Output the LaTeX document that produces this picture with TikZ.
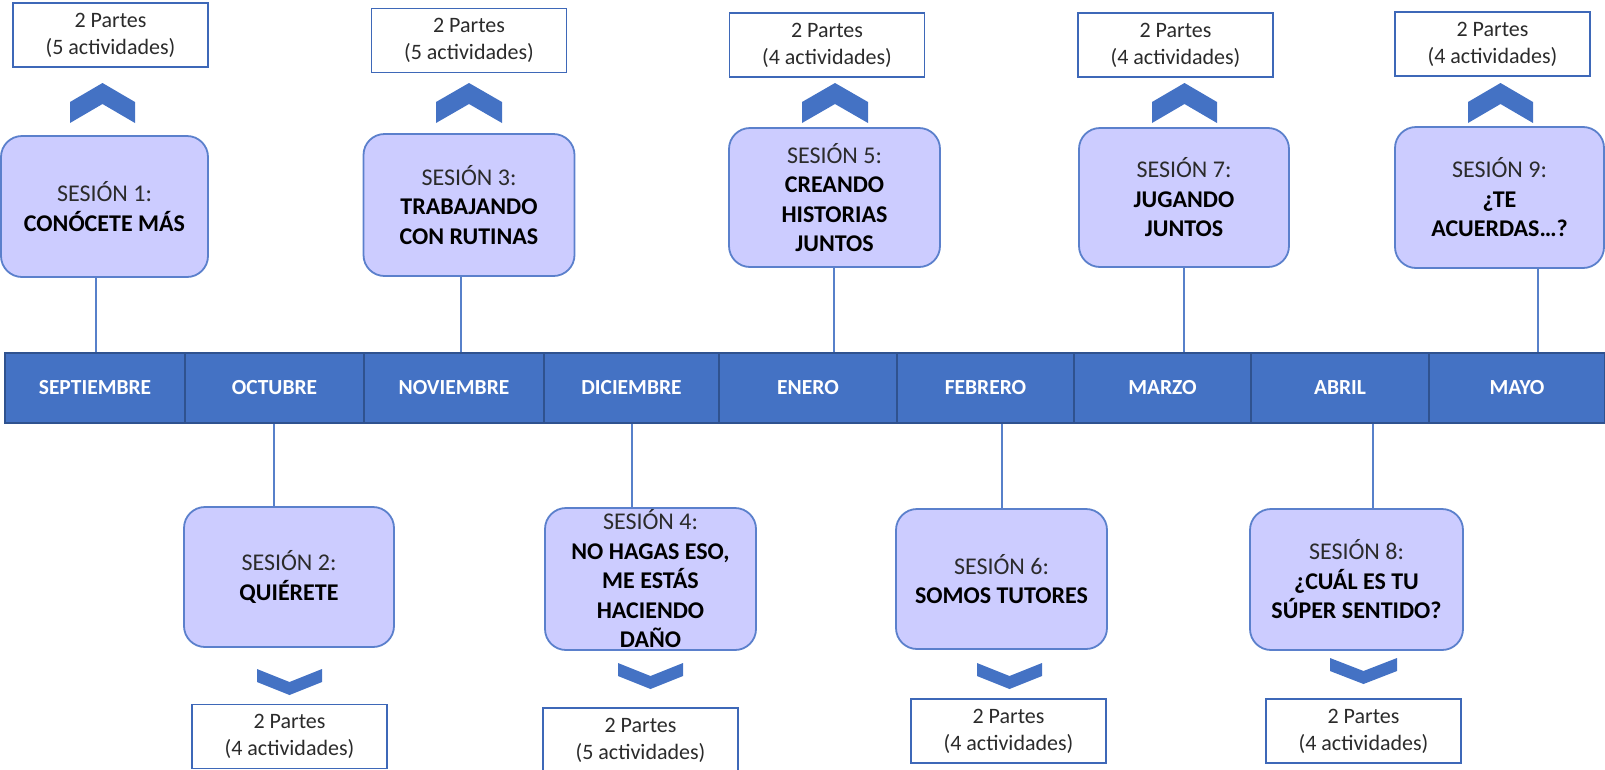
\documentclass[tikz,border=0pt]{standalone}
\usepackage{fontspec}
\setmainfont{Carlito}
\definecolor{barblue}{HTML}{4472C4}
\definecolor{bardark}{HTML}{2F528F}
\definecolor{sessfill}{HTML}{CCCCFF}
\definecolor{sessline}{HTML}{5B80CC}
\definecolor{infoline}{HTML}{3E68B8}
\definecolor{txtgray}{HTML}{2B2B2B}
\tikzset{
  sbox/.style={draw=sessline, fill=sessfill, line width=1.8pt, rounded corners=21pt, minimum width=210, minimum height=141, inner sep=0pt},
  stext/.style={align=center, inner sep=0pt, text=txtgray, font=\fontsize{24}{29.5}\selectfont},
  ibox/.style={draw=infoline, fill=white, line width=1.6pt, minimum width=195, minimum height=64, inner sep=0pt, align=center, text=txtgray, font=\fontsize{22}{27}\selectfont},
  month/.style={draw=bardark, fill=barblue, line width=1.8pt, minimum height=70, inner sep=0pt, text=white, font=\fontsize{21.5}{25}\selectfont\bfseries},
  conn/.style={draw=barblue!90!white, line width=1.6pt},
  chev/.style={fill=barblue}
}
\newcommand\mysess[6]{%
  \node[sbox, minimum width=#4, minimum height=#5] (#1) at (#2,#3) {};
  \node[stext] (#1t) at (#1.center) {#6};}
\newcommand\mychevup[3]{\fill[chev] (#1,#3+19) -- ({(#1+#2)/2},#3) -- (#2,#3+19) -- (#2,#3+40) -- ({(#1+#2)/2},#3+21) -- (#1,#3+40) -- cycle;}
\newcommand\mychevdown[3]{\fill[chev] (#1,#3) -- ({(#1+#2)/2},#3+13) -- (#2,#3) -- (#2,#3+13) -- ({(#1+#2)/2},#3+26) -- (#1,#3+13) -- cycle;}
\newcommand\mymonth[4]{\node[month, minimum width={#3-#2}] (#1) at ({(#2+#3)/2},388) {#4};}
\begin{document}
\begin{tikzpicture}[x=1pt, y=-1pt]
\useasboundingbox (0,0) rectangle (1605,769);
% month bar
\mymonth{m1}{5}{185}{SEPTIEMBRE}
\mymonth{m2}{185}{364}{OCTUBRE}
\mymonth{m3}{364}{544}{NOVIEMBRE}
\mymonth{m4}{544}{719}{DICIEMBRE}
\mymonth{m5}{719}{897}{ENERO}
\mymonth{m6}{897}{1074}{FEBRERO}
\mymonth{m7}{1074}{1251}{MARZO}
\mymonth{m8}{1251}{1429}{ABRIL}
\mymonth{m9}{1429}{1605}{MAYO}
% sessions
\mysess{s1}{104.5}{206.5}{207}{141}{SESIÓN 1:\\\textbf{\color{black}CONÓCETE MÁS}}
\mysess{s3}{469}{205}{211}{142}{SESIÓN 3:\\\textbf{\color{black}TRABAJANDO}\\\textbf{\color{black}CON RUTINAS}}
\mysess{s5}{834.5}{197.5}{211}{139}{SESIÓN 5:\\\textbf{\color{black}CREANDO}\\\textbf{\color{black}HISTORIAS}\\\textbf{\color{black}JUNTOS}}
\mysess{s7}{1184}{197.5}{210}{139}{SESIÓN 7:\\\textbf{\color{black}JUGANDO}\\\textbf{\color{black}JUNTOS}}
\mysess{s9}{1499.5}{197.5}{209}{141}{SESIÓN 9:\\\textbf{\color{black}¿TE}\\\textbf{\color{black}ACUERDAS…?}}
\mysess{s2}{289}{577}{210}{140}{SESIÓN 2:\\\textbf{\color{black}QUIÉRETE}}
\mysess{s4}{650.5}{579}{211}{142}{SESIÓN 4:\\\textbf{\color{black}NO HAGAS ESO,}\\\textbf{\color{black}ME ESTÁS}\\\textbf{\color{black}HACIENDO}\\\textbf{\color{black}DAÑO}}
\mysess{s6}{1001.5}{579}{211}{140}{SESIÓN 6:\\\textbf{\color{black}SOMOS TUTORES}}
\mysess{s8}{1356.5}{579.5}{213}{141}{SESIÓN 8:\\\textbf{\color{black}¿CUÁL ES TU}\\\textbf{\color{black}SÚPER SENTIDO?}}
% info boxes
\node[ibox] (b1) at (110.5,35) {2 Partes\\(5 actividades)};
\node[ibox] (b3) at (469,40.5) {2 Partes\\(5 actividades)};
\node[ibox] (b5) at (827,45) {2 Partes\\(4 actividades)};
\node[ibox] (b7) at (1175.5,45) {2 Partes\\(4 actividades)};
\node[ibox] (b9) at (1492.5,44) {2 Partes\\(4 actividades)};
\node[ibox] (b2) at (289.5,736.5) {2 Partes\\(4 actividades)};
\node[ibox] (b4) at (640.5,740) {2 Partes\\(5 actividades)};
\node[ibox] (b6) at (1008.5,731) {2 Partes\\(4 actividades)};
\node[ibox] (b8) at (1363.5,731) {2 Partes\\(4 actividades)};
% chevrons
\mychevup{70}{135}{83}
\mychevup{436}{502}{83}
\mychevup{802}{868}{83}
\mychevup{1152}{1217}{83}
\mychevup{1468}{1533}{83}
\mychevdown{257}{322}{669}
\mychevdown{618}{683}{663}
\mychevdown{977}{1042}{663}
\mychevdown{1330}{1397}{658}
% connectors
\coordinate (k1) at (96,0);
\coordinate (k3) at (461,0);
\coordinate (k5) at (834,0);
\coordinate (k7) at (1184,0);
\coordinate (k9) at (1538,0);
\coordinate (k2) at (274,0);
\coordinate (k4) at (632,0);
\coordinate (k6) at (1002,0);
\coordinate (k8) at (1373,0);
\draw[conn] (s1.south -| k1) -- (m1.north -| k1);
\draw[conn] (s3.south -| k3) -- (m3.north -| k3);
\draw[conn] (s5.south -| k5) -- (m5.north -| k5);
\draw[conn] (s7.south -| k7) -- (m7.north -| k7);
\draw[conn] (s9.south -| k9) -- (m9.north -| k9);
\draw[conn] (m2.south -| k2) -- (s2.north -| k2);
\draw[conn] (m4.south -| k4) -- (s4.north -| k4);
\draw[conn] (m6.south -| k6) -- (s6.north -| k6);
\draw[conn] (m8.south -| k8) -- (s8.north -| k8);
\end{tikzpicture}
\end{document}
